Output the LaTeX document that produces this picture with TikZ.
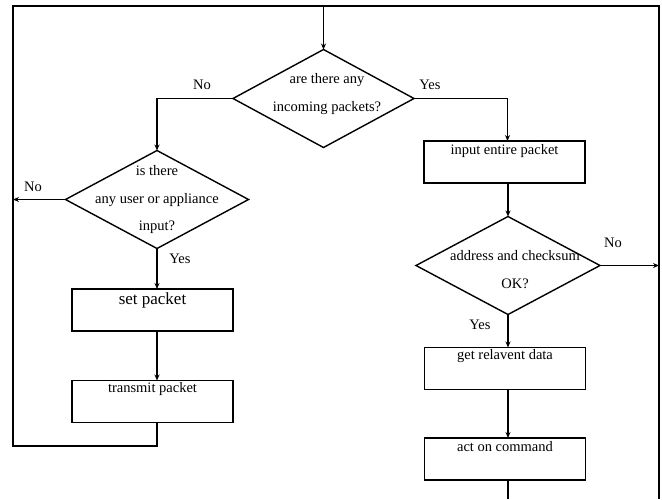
\documentclass[tikz,border=0pt]{standalone}
\usepackage{fontspec}
\setmainfont{Liberation Serif}
\usetikzlibrary{shapes.geometric,arrows.meta}
\begin{document}
\begin{tikzpicture}[x=1pt,y=-1pt,
  every node/.style={inner sep=0pt,outer sep=0pt},
  flow/.style={line width=1.4pt,black},
  arr/.style={flow,-{Stealth[length=6pt,width=5pt]}},
  decision/.style={draw,flow,diamond,minimum width=#1,minimum height=98pt,inner sep=0pt},
  stepbox/.style={draw,flow,rectangle,minimum width=161pt,minimum height=42pt},
  txt/.style={font=\fontsize{14.5}{27.5}\selectfont,align=center},
  bigtxt/.style={font=\fontsize{17}{20}\selectfont},
  tag/.style={font=\fontsize{14.5}{16}\selectfont}]
\useasboundingbox (0,0) rectangle (662,499);

% frame corners of the return paths
\coordinate (tl) at (13,6);
\coordinate (tr) at (659,6);
\coordinate (bl) at (13,446);
\coordinate (br) at (659,499);

% decisions
\node[decision=181pt] (d1) at (323.5,98.5) {};
\node[txt] (d1t) at (327,94) {are there any\\incoming packets?};

\node[decision=183pt] (d2) at (157,199.5) {};
\node[txt] (d2t) at (157,200) {is there\\any user or appliance\\input?};

\node[decision=184pt] (d3) at (508,265.5) {};
\node[txt] (d3t) at (515,269.5) {address and checksum\\OK?};

% process boxes
\node[stepbox] (inp) at (504.5,162) {};
\node[txt] (inpt) at ([yshift=-10pt]inp.north) {input entire packet};

\node[stepbox] (setp) at (152.5,310) {};
\node[bigtxt] (setpt) at ([yshift=-11pt]setp.north) {set packet};

\node[stepbox] (trans) at (152.5,401.5) {};
\node[txt] (transt) at ([yshift=-9pt]trans.north) {transmit packet};

\node[stepbox] (get) at (505,368.5) {};
\node[txt] (gett) at ([yshift=-9pt]get.north) {get relavent data};

\node[stepbox] (act) at (505,459) {};
\node[txt] (actt) at ([yshift=-9pt]act.north) {act on command};

% loop back from transmit packet and the right-hand return line
\draw[flow] (trans.south -| d2.south) -- (bl -| d2.south) -- (bl) -- (tl) -- (tr) -- (br);
\draw[arr] (d1.north |- tl) -- (d1.north);

% branches of the first decision
\draw[arr] (d1.west) -| (d2.north);
\draw[arr] (d1.east) -| ([xshift=3pt]inp.north);
\node[tag] (no1) at (202,85) {No};
\node[tag] (yes1) at (430,85) {Yes};

% left column
\draw[arr] (d2.west) -- (d2.west -| tl);
\node[tag] (no2) at (33,187) {No};
\draw[arr] (d2.south) -- (d2.south |- setp.north);
\node[tag] (yes2) at (180,259) {Yes};
\draw[arr] (setp.south -| d2.south) -- (trans.north -| d2.south);

% right column
\draw[arr] (inp.south -| d3.north) -- (d3.north);
\draw[arr] (d3.east) -- (d3.east -| tr);
\node[tag] (no3) at (613,243) {No};
\draw[arr] (d3.south) -- (d3.south |- get.north);
\node[tag] (yes3) at (480,325) {Yes};
\draw[arr] (get.south -| d3.south) -- (act.north -| d3.south);
\draw[flow] (act.south -| d3.south) -- (br -| d3.south);
\end{tikzpicture}
\end{document}
